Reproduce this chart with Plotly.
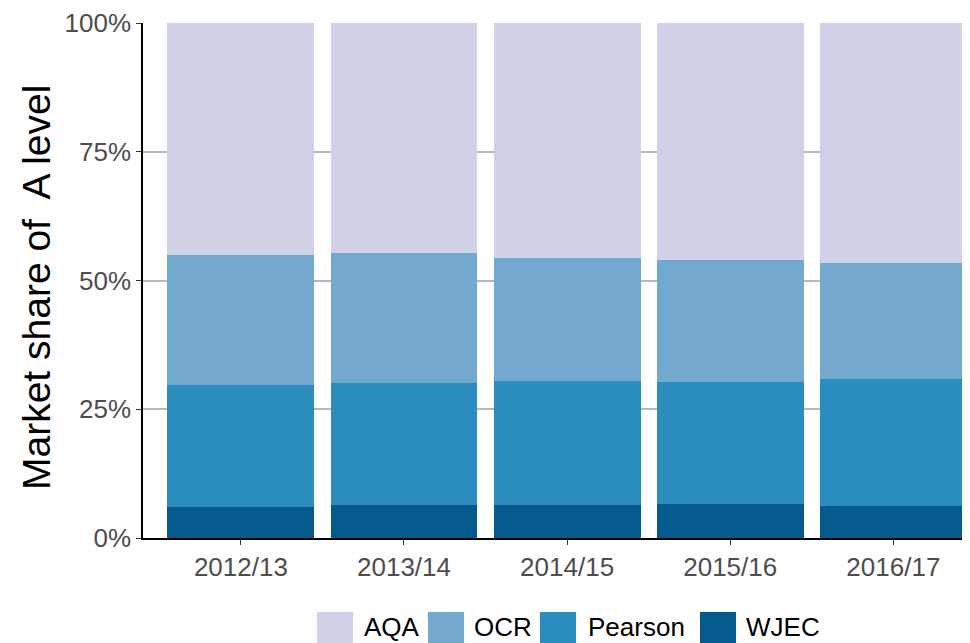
import plotly.graph_objects as go

years = ["2012/13", "2013/14", "2014/15", "2015/16", "2016/17"]
wjec = [6.0, 6.35, 6.5, 6.7, 6.3]
pearson = [23.65, 23.75, 23.9, 23.5, 24.6]
ocr = [25.35, 25.2, 23.9, 23.8, 22.5]
aqa = [45.0, 44.7, 45.7, 46.0, 46.6]

series_names = ["WJEC", "Pearson", "OCR", "AQA"]
series_vals = [wjec, pearson, ocr, aqa]
series_cols = ["#045a8d", "#2b8cbe", "#74a9cf", "#d0d1e6"]

FONT = "Liberation Sans, Arial, sans-serif"
OFF = 8  # page body margin
W, H = 970 - OFF, 643 - OFF
# plot area in page pixels: left 143, right 970, top 23, bottom 538
L, R, T, B = 143 - OFF, 0, 23 - OFF, H - (538 - OFF)
PW, PH = W - L - R, H - T - B

def px2x(px):
    return (px - OFF - L) / PW

def px2y(py):
    return (H - B - (py - OFF)) / PH

fig = go.Figure()
for name, vals, col in zip(series_names, series_vals, series_cols):
    fig.add_trace(go.Bar(x=list(range(len(years))), y=vals, name=name, showlegend=False,
                         marker=dict(color=col, line=dict(width=0)), width=0.9))

# manual legend (AQA, OCR, Pearson, WJEC left to right)
legend_sq = [317, 428, 540, 700]
legend_tx = [362, 472, 586, 744]
shapes, annots = [], []
for i, idx in enumerate([3, 2, 1, 0]):
    shapes.append(dict(type="rect", xref="paper", yref="paper",
                       x0=px2x(legend_sq[i]), x1=px2x(legend_sq[i] + 36),
                       y0=px2y(612), y1=px2y(660),
                       fillcolor=series_cols[idx], line=dict(width=0), layer="above"))
    annots.append(dict(xref="paper", yref="paper", x=px2x(legend_tx[i]), y=px2y(627),
                       xanchor="left", yanchor="middle", showarrow=False,
                       text=series_names[idx], font=dict(size=26, color="black")))

annots.append(dict(xref="paper", yref="paper", x=px2x(36), y=px2y(288),
                   xanchor="center", yanchor="middle", showarrow=False, textangle=-90,
                   text="Market share of\u00a0 A level", font=dict(size=39, color="black")))

fig.update_layout(
    width=W, height=H, barmode="stack",
    margin=dict(l=L, r=R, t=T, b=B, autoexpand=False),
    plot_bgcolor="white", paper_bgcolor="white",
    font=dict(family=FONT), showlegend=False,
    shapes=shapes, annotations=annots,
)
fig.update_xaxes(range=[-0.6, 4.47], tickvals=list(range(len(years))), ticktext=years,
                 showline=True, linecolor="black", linewidth=1.5, ticks="outside",
                 ticklen=5, tickcolor="#333333", tickfont=dict(size=26, color="#4d4d4d"),
                 showgrid=False, zeroline=False, automargin=False)
fig.update_yaxes(range=[0, 100], tickvals=[0, 25, 50, 75, 100],
                 ticktext=["0%", "25%", "50%", "75%", "100%"],
                 showline=True, linecolor="black", linewidth=1.5, ticks="outside",
                 ticklen=5, tickcolor="#333333", tickfont=dict(size=26, color="#4d4d4d"),
                 showgrid=True, gridcolor="#b8b8b8", gridwidth=1.5, zeroline=False,
                 automargin=False)
fig.write_html("out.html")
